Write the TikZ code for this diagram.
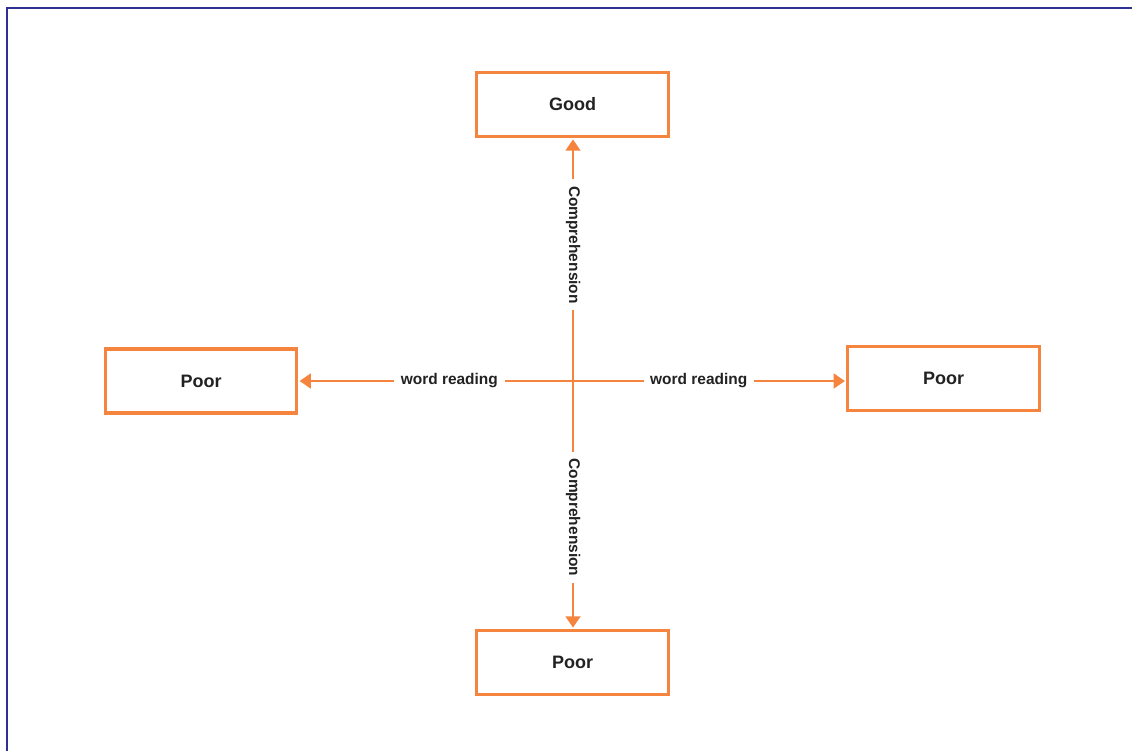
\documentclass[tikz,border=0pt]{standalone}
\usepackage{fontspec}
\setmainfont{Liberation Sans}
\usepackage{xcolor}
\usetikzlibrary{positioning,arrows.meta}

\definecolor{boxorange}{RGB}{244,132,62}
\definecolor{frameblue}{RGB}{46,49,146}
\definecolor{textgray}{RGB}{34,34,34}

\begin{document}
\begin{tikzpicture}[
  x=0.75pt, y=-0.75pt,
  box/.style={draw=boxorange, line width=2.3pt, minimum width=143.5pt,
              minimum height=48pt, align=center, text=textgray,
              font=\fontsize{13.5}{16}\selectfont\bfseries},
  arrow/.style={draw=boxorange, line width=2.2pt, -{Triangle[length=8.5pt, width=11pt]},
                shorten >=1pt},
  lbl/.style={fill=white, text=textgray, inner xsep=5pt, inner ysep=2pt,
              font=\fontsize{11.6}{14}\selectfont\bfseries}
]
  \useasboundingbox (0,0) rectangle (1132,751);
  % frame
  \draw[frameblue, line width=2.2pt] (7,751) -- (7,8) -- (1132,8);

  % centre and boxes
  \coordinate (c) at (573,381);
  \node[box] (good) at (572.5,104.5) {Good};
  \node[box] (poorl) at (201,381) {Poor};
  \node[box] (poorr) at (943.5,378.5) {Poor};
  \node[box] (poorb) at (572.5,662.5) {Poor};

  % axes
  \draw[arrow] (c) -- (c |- good.south)
    node[lbl, pos=0.56, rotate=-90] {Comprehension};
  \draw[arrow] (c) -- (c |- poorb.north)
    node[lbl, pos=0.55, rotate=-90] {Comprehension};
  \draw[arrow] (c) -- (c -| poorl.east)
    node[lbl, pos=0.45] {word reading};
  \draw[arrow] (c) -- (c -| poorr.west)
    node[lbl, pos=0.46] {word reading};
\end{tikzpicture}
\end{document}
